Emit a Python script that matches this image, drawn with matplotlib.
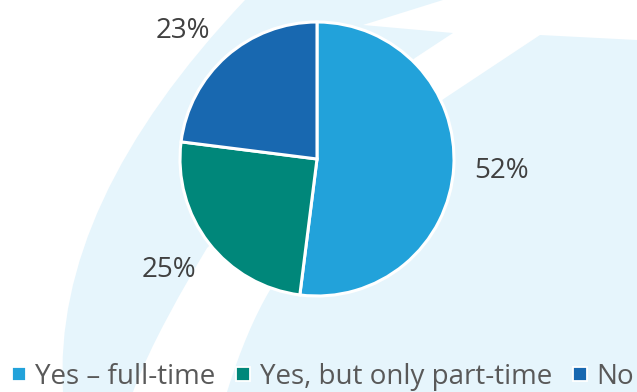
import numpy as np
import matplotlib.pyplot as plt
from matplotlib.path import Path
from matplotlib.patches import PathPatch
from matplotlib.lines import Line2D

plt.rcParams['font.family'] = ['Open Sans', 'DejaVu Sans']

# survey answers, share of respondents in percent
categories = ["Yes \u2013 full-time", "Yes, but only part-time", "No"]
shares = [52, 25, 23]
colors = ["#22A2DA", "#00877A", "#1868B0"]

W, H = 637, 392
fig = plt.figure(figsize=(W / 100, H / 100), dpi=100, facecolor="white")

# light watermark shapes behind the chart, in pixel units
bg = fig.add_axes([0, 0, 1, 1], zorder=0)
bg.set_xlim(0, W)
bg.set_ylim(H, 0)
bg.axis("off")
light = "#E6F5FC"

band_left = Path(
    [(63, 392), (52, 204), (245, 0),
     (443, 0), (363, 25), (453, 33), (415, 58), (207, 248),
     (185, 285), (150, 345), (133, 392), (63, 392)],
    [Path.MOVETO, Path.CURVE3, Path.CURVE3,
     Path.LINETO, Path.LINETO, Path.LINETO, Path.LINETO, Path.LINETO,
     Path.CURVE4, Path.CURVE4, Path.CURVE4, Path.CLOSEPOLY])
band_right = Path(
    [(227, 392), (240, 350), (255, 315), (270, 290),
     (330, 180), (445, 98), (540, 35), (637, 40), (637, 392), (227, 392)],
    [Path.MOVETO, Path.CURVE4, Path.CURVE4, Path.CURVE4,
     Path.LINETO, Path.LINETO, Path.LINETO, Path.LINETO, Path.LINETO,
     Path.CLOSEPOLY])
for p in (band_left, band_right):
    bg.add_patch(PathPatch(p, facecolor=light, edgecolor="none"))

# pie: centre at (317, 159) px, radius 137 px
cx, cy, r = 317, 159, 137
ax = fig.add_axes([(cx - r) / W, (H - cy - r) / H, 2 * r / W, 2 * r / H], zorder=1)
wedges, texts, autotexts = ax.pie(
    shares, colors=colors, startangle=90, counterclock=False, radius=1,
    autopct="%.0f%%", pctdistance=1.34,
    wedgeprops=dict(edgecolor="white", linewidth=2.2),
    textprops=dict(fontsize=20, color="#404040"))
ax.set_xlim(-1, 1)
ax.set_ylim(-1, 1)
ax.axis("off")

# best-fit style label placement: small angle nudges per slice
nudge = [0, -1, 5]
for w, t, d in zip(wedges, autotexts, nudge):
    ang = np.deg2rad((w.theta1 + w.theta2) / 2 + d)
    t.set_position((1.35 * np.cos(ang), 1.35 * np.sin(ang)))
    t.set_clip_on(False)
for w in wedges:
    w.set_clip_on(False)

handles = [Line2D([], [], linestyle="none", marker="s", markersize=9.5,
                  markerfacecolor=c, markeredgecolor="white", markeredgewidth=1.3)
           for c in colors]
fig.legend(handles, categories, loc="center left", bbox_to_anchor=(9 / W, 1 - 377 / H),
           ncol=3, frameon=False, fontsize=20, labelcolor="#595959",
           handlelength=0.7, handletextpad=0.24, columnspacing=0.65,
           borderpad=0, borderaxespad=0)

fig.savefig("out.png", dpi=100, facecolor="white")
